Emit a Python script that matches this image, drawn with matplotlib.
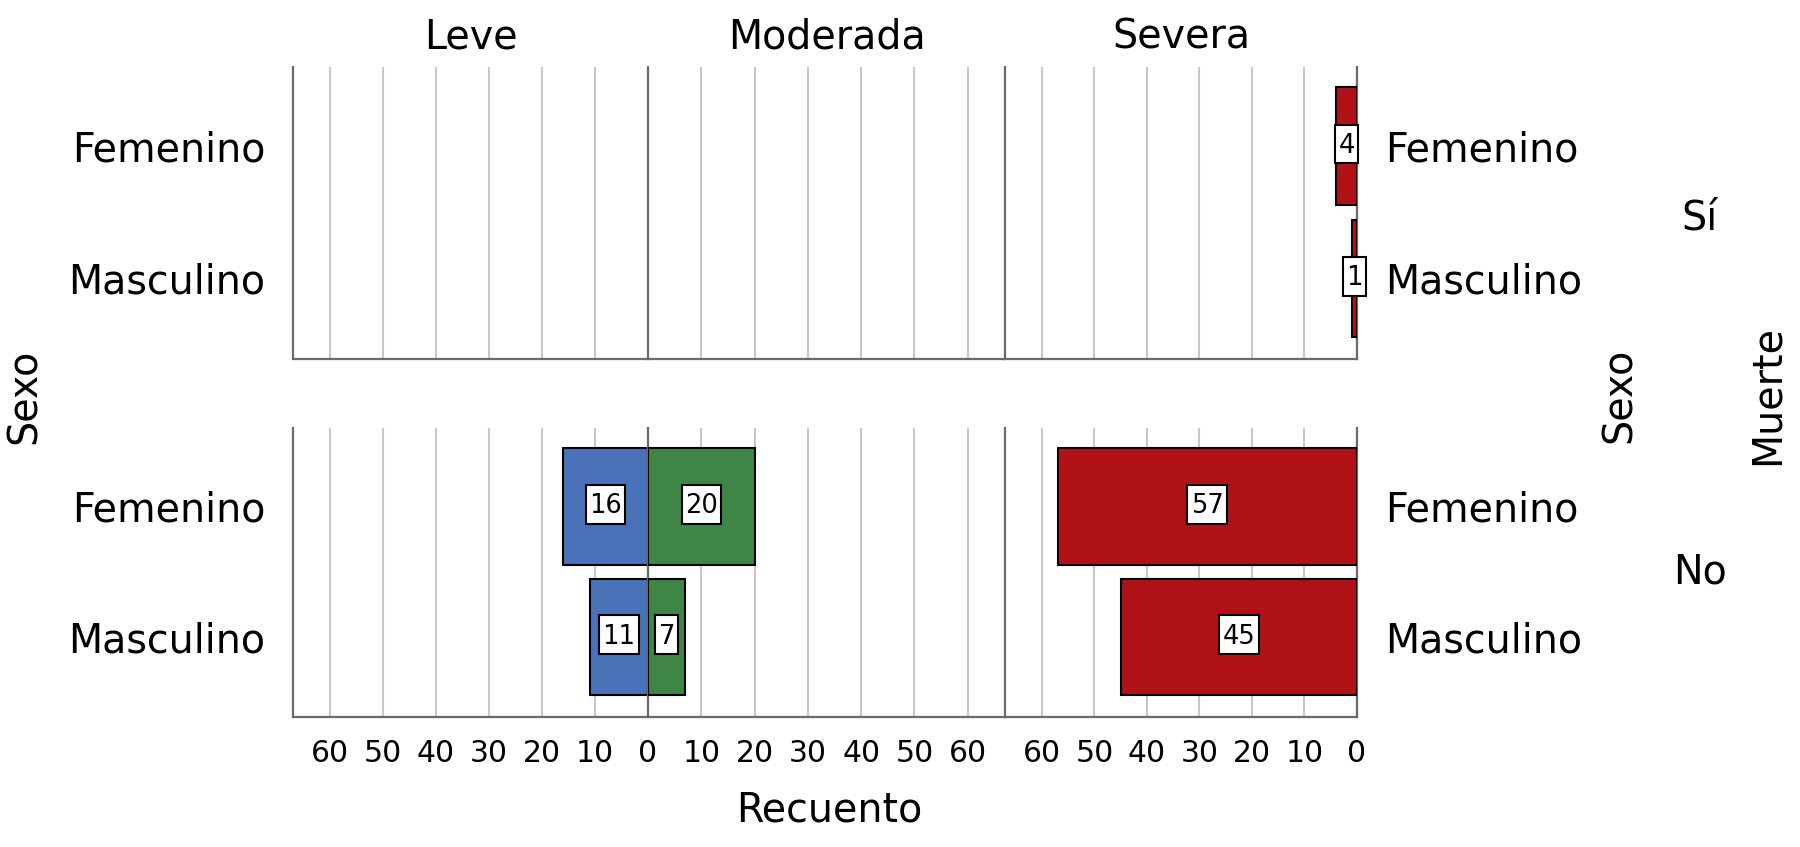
import matplotlib
matplotlib.use("Agg")
import matplotlib.pyplot as plt
from matplotlib.path import Path

# ---- data ----
severidad = ["Leve", "Moderada", "Severa"]
muerte = ["Sí", "No"]
sexo = ["Femenino", "Masculino"]
# counts [Femenino, Masculino]
leve_si = [0, 0]
moderada_si = [0, 0]
severa_si = [4, 1]
leve_no = [16, 11]
moderada_no = [20, 7]
severa_no = [57, 45]
colores = ["#4A72B8", "#3F8646", "#B01218"]
xticks = [0, 10, 20, 30, 40, 50, 60]

FONT = "DejaVu Sans"
plt.rcParams["font.family"] = [FONT]

W, H = 1800, 847
fig = plt.figure(figsize=(W / 100, H / 100), dpi=100)

col_x = [(293, 648), (648, 1005), (1005, 1357)]
row_y = [(67, 359), (428, 717)]
data = [[leve_si, moderada_si, severa_si], [leve_no, moderada_no, severa_no]]
inverted = [True, False, True]
ypos = [1, 0]  # Femenino on top

SPINE = "#6a6a6a"
GRID = "#c8c8c8"
LBL = 28.5


def label_box(x0, y0, width, height, mutation_size):
    """Box around the value digits, re-centred on the digit glyphs."""
    pad_x = 0.13 * mutation_size
    pad_y = 0.25 * mutation_size
    shift = 0.09 * mutation_size
    xa, xb = x0 - pad_x, x0 + width + pad_x
    ya, yb = y0 - pad_y + shift, y0 + height + pad_y + shift
    return Path([(xa, ya), (xb, ya), (xb, yb), (xa, yb), (xa, ya)], closed=True)


for r, (y0, y1) in enumerate(row_y):
    for c, (x0, x1) in enumerate(col_x):
        ax = fig.add_axes([x0 / W, 1 - y1 / H, (x1 - x0) / W, (y1 - y0) / H])
        ax.set_facecolor("none")
        vals = data[r][c]
        for yp, v in zip(ypos, vals):
            if v <= 0:
                continue
            ax.barh(yp, v, height=0.89, color=colores[c], edgecolor="black",
                    linewidth=1.5, zorder=3)
            ax.text(v / 2, yp, str(v), ha="center", va="center", fontsize=18.5,
                    color="black", zorder=5,
                    bbox=dict(boxstyle=label_box, fc="white",
                              ec="black", lw=1.5))
        ax.set_ylim(-0.61, 1.6)
        if inverted[c]:
            ax.set_xlim(67, 0)
        else:
            ax.set_xlim(0, 67)
        ax.set_xticks(xticks)
        ax.xaxis.grid(True, color=GRID, linewidth=1.5, zorder=0)
        ax.set_axisbelow(True)
        ax.set_yticks(ypos)
        ax.set_yticklabels(sexo)
        for s in ["top", "right"]:
            ax.spines[s].set_visible(False)
        ax.spines["left"].set_color(SPINE)
        ax.spines["left"].set_linewidth(1.6)
        ax.spines["bottom"].set_color(SPINE)
        ax.spines["bottom"].set_linewidth(1.6)
        if c == 2:
            ax.spines["right"].set_visible(True)
            ax.spines["right"].set_color(SPINE)
            ax.spines["right"].set_linewidth(1.6)
        ax.tick_params(axis="both", length=0)
        ax.tick_params(axis="y", labelsize=LBL, pad=20,
                       labelleft=(c == 0), labelright=(c == 2))
        if r == 1:
            labels = [str(t) for t in xticks]
            if c == 1:
                labels[0] = ""
            ax.set_xticklabels(labels)
            ax.tick_params(axis="x", labelsize=21.5, pad=16)
        else:
            ax.set_xticklabels([])
        if r == 0:
            ax.set_title(severidad[c], fontsize=LBL, pad=13)

# figure-level labels
fig.text(829 / W, 1 - 810 / H, "Recuento", ha="center", va="center", fontsize=LBL)
fig.text(25 / W, 1 - 396 / H, "Sexo", ha="center", va="center", rotation=90, fontsize=LBL)
fig.text(1620 / W, 1 - 395 / H, "Sexo", ha="center", va="center", rotation=90, fontsize=LBL)
fig.text(1768 / W, 1 - 395 / H, "Muerte", ha="center", va="center", rotation=90, fontsize=LBL)
fig.text(1700 / W, 1 - 218 / H, muerte[0], ha="center", va="center", fontsize=LBL)
fig.text(1700 / W, 1 - 572 / H, muerte[1], ha="center", va="center", fontsize=LBL)

fig.savefig("out.png", dpi=100, facecolor="white")
